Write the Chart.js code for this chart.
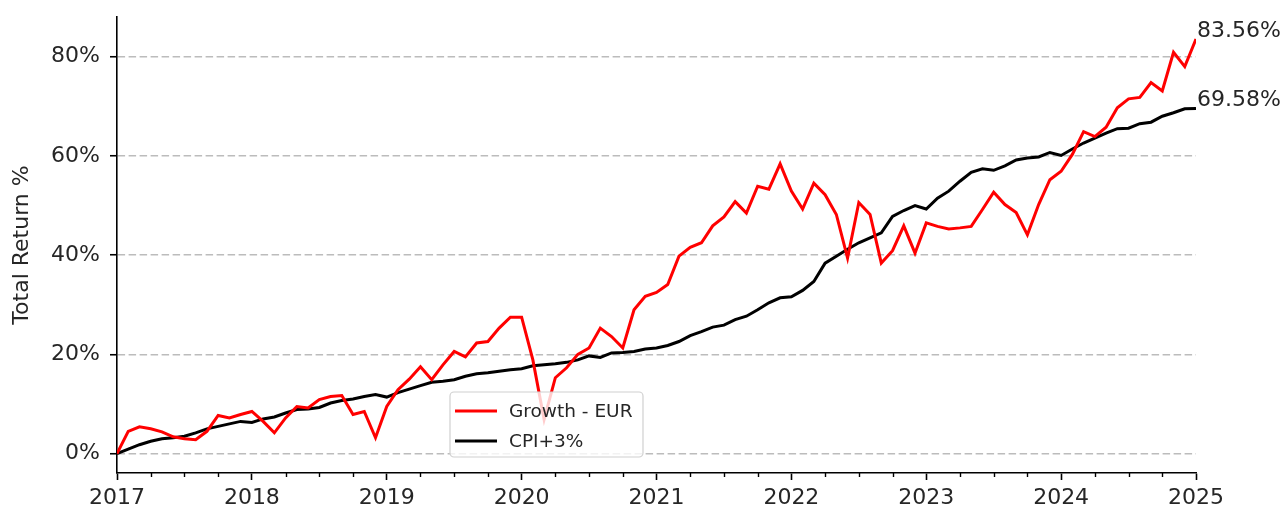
<!DOCTYPE html>
<html>
<head>
<meta charset="utf-8">
<script src="https://cdn.jsdelivr.net/npm/chart.js@4.4.1/dist/chart.umd.min.js"></script>
<style>
  html, body { margin: 0; padding: 0; background: #fff; }
  #wrap { width: 1285px; height: 512px; }
</style>
</head>
<body>
<div id="wrap"><canvas id="returns"></canvas></div>
<script>
// months since Jan 2017 (0 .. 96 = Jan 2025)
const startYear = 2017;
const monthIdx = [
  0, 1, 2, 3, 4, 5, 6, 7, 8, 9, 10, 11,
  12, 13, 14, 15, 16, 17, 18, 19, 20, 21, 22, 23,
  24, 25, 26, 27, 28, 29, 30, 31, 32, 33, 34, 35,
  36, 37, 38, 39, 40, 41, 42, 43, 44, 45, 46, 47,
  48, 49, 50, 51, 52, 53, 54, 55, 56, 57, 58, 59,
  60, 61, 62, 63, 64, 65, 66, 67, 68, 69, 70, 71,
  72, 73, 74, 75, 76, 77, 78, 79, 80, 81, 82, 83,
  84, 85, 86, 87, 88, 89, 90, 91, 92, 93, 94, 95,
  96
];

// total return in %
const growthEur = [
  0.0, 4.5, 5.4, 5.0, 4.4, 3.4, 3.0, 2.8, 4.5, 7.7, 7.2, 7.9,
  8.5, 6.5, 4.2, 7.2, 9.5, 9.2, 10.9, 11.5, 11.7, 7.9, 8.5, 3.2,
  9.5, 12.9, 15.0, 17.5, 14.9, 17.9, 20.6, 19.5, 22.3, 22.6, 25.3, 27.5,
  27.5, 18.9, 6.9, 15.3, 17.3, 20.0, 21.3, 25.3, 23.6, 21.3, 29.0, 31.7,
  32.5, 34.1, 39.8, 41.6, 42.5, 45.9, 47.7, 50.8, 48.5, 53.9, 53.3, 58.4,
  52.9, 49.3, 54.5, 52.2, 48.2, 39.4, 50.6, 48.2, 38.4, 40.9, 45.9, 40.4,
  46.5, 45.8, 45.3, 45.5, 45.8, 49.2, 52.7, 50.2, 48.6, 44.1, 50.2, 55.2,
  56.9, 60.3, 64.9, 63.9, 65.8, 69.7, 71.5, 71.8, 74.8, 73.1, 80.9, 78.0,
  83.56
];

const cpiPlus3 = [
  0.0, 0.9, 1.8, 2.5, 3.0, 3.2, 3.5, 4.2, 5.0, 5.5, 6.0, 6.5,
  6.3, 7.0, 7.4, 8.2, 8.9, 9.0, 9.3, 10.2, 10.7, 11.0, 11.5, 11.9,
  11.4, 12.3, 13.0, 13.7, 14.4, 14.6, 14.9, 15.6, 16.1, 16.3, 16.6, 16.9,
  17.1, 17.7, 17.9, 18.1, 18.4, 18.9, 19.7, 19.4, 20.3, 20.4, 20.6, 21.1,
  21.3, 21.8, 22.6, 23.8, 24.6, 25.5, 25.9, 27.0, 27.7, 29.0, 30.4, 31.4,
  31.6, 32.9, 34.7, 38.4, 39.8, 41.2, 42.5, 43.5, 44.5, 47.8, 49.0, 50.0,
  49.3, 51.5, 52.9, 54.9, 56.7, 57.4, 57.1, 58.0, 59.2, 59.6, 59.8, 60.7,
  60.1, 61.4, 62.6, 63.6, 64.6, 65.5, 65.6, 66.5, 66.8, 68.0, 68.7, 69.5,
  69.58
];

const yTicks = [0, 20, 40, 60, 80];
const seriesNames = ['Growth - EUR', 'CPI+3%'];
const seriesColors = ['#ff0000', '#000000'];

const FONT = "'DejaVu Sans', sans-serif";
const TXT = '#262626';

function toPoints(vals) {
  return monthIdx.map((m, i) => ({ x: m, y: vals[i] }));
}

// quarter minor ticks, end labels and the legend box
const extrasPlugin = {
  id: 'extras',
  afterDatasetsDraw(chart) {
    const ctx = chart.ctx;
    const xs = chart.scales.x;
    const ys = chart.scales.y;
    const area = chart.chartArea;
    ctx.save();

    // minor ticks every quarter
    ctx.strokeStyle = '#000';
    ctx.lineWidth = 1.4;
    for (let m = 3; m < 96; m += 3) {
      if (m % 12 === 0) continue;
      const px = Math.round(xs.getPixelForValue(m)) + 0.5;
      ctx.beginPath();
      ctx.moveTo(px, area.bottom);
      ctx.lineTo(px, area.bottom + 4);
      ctx.stroke();
    }

    // last value labels
    ctx.font = '22px ' + FONT;
    ctx.fillStyle = TXT;
    ctx.textAlign = 'left';
    ctx.textBaseline = 'bottom';
    chart.data.datasets.forEach(ds => {
      const last = ds.data[ds.data.length - 1];
      ctx.fillText(last.y.toFixed(2) + '%', xs.getPixelForValue(last.x) + 1, ys.getPixelForValue(last.y) + 3);
    });

    // legend
    const bx = 450, by = 392, bw = 193, bh = 65;
    ctx.fillStyle = 'rgba(255,255,255,0.8)';
    ctx.strokeStyle = '#d0d0d0';
    ctx.lineWidth = 1.2;
    ctx.beginPath();
    ctx.roundRect(bx, by, bw, bh, 4);
    ctx.fill();
    ctx.stroke();
    ctx.font = '18.5px ' + FONT;
    ctx.textBaseline = 'middle';
    chart.data.datasets.forEach((ds, i) => {
      const ly = by + 19 + i * 30;
      ctx.strokeStyle = ds.borderColor;
      ctx.lineWidth = 3;
      ctx.beginPath();
      ctx.moveTo(bx + 5, ly);
      ctx.lineTo(bx + 47, ly);
      ctx.stroke();
      ctx.fillStyle = TXT;
      ctx.fillText(ds.label, bx + 59, ly + 1);
    });
    ctx.restore();
  }
};

new Chart(document.getElementById('returns'), {
  type: 'line',
  data: {
    datasets: [
      {
        label: seriesNames[0],
        data: toPoints(growthEur),
        borderColor: seriesColors[0],
        borderWidth: 3,
        pointRadius: 0,
        tension: 0
      },
      {
        label: seriesNames[1],
        data: toPoints(cpiPlus3),
        borderColor: seriesColors[1],
        borderWidth: 3,
        pointRadius: 0,
        tension: 0
      }
    ]
  },
  options: {
    responsive: true,
    maintainAspectRatio: false,
    animation: false,
    layout: { padding: { top: 17, right: 89, left: 0, bottom: 0 } },
    plugins: {
      legend: { display: false },
      tooltip: { enabled: false }
    },
    scales: {
      x: {
        type: 'linear',
        min: 0,
        max: 96,
        afterFit: s => { s.height = 39; },
        border: { display: true, color: '#000', width: 1.6 },
        grid: {
          drawOnChartArea: false,
          drawTicks: true,
          tickLength: 7,
          tickWidth: 1.6,
          tickColor: c => (c.tick && c.tick.value % 12 === 0) ? '#000' : 'rgba(0,0,0,0)'
        },
        ticks: {
          stepSize: 3,
          autoSkip: false,
          maxRotation: 0,
          padding: 5,
          color: TXT,
          font: { family: FONT, size: 22 },
          callback: v => (v % 12 === 0) ? String(startYear + v / 12) : ''
        }
      },
      y: {
        min: -3.9,
        max: 88,
        afterFit: s => { s.width = 117; s.paddingTop = 0; s.paddingBottom = 0; },
        afterBuildTicks: s => { s.ticks = yTicks.map(v => ({ value: v })); },
        border: { display: true, color: '#000', width: 1.6, dash: [7.5, 3.5] },
        grid: {
          color: '#bcbcbc',
          lineWidth: 1.5,
          drawTicks: true,
          tickLength: 7,
          tickColor: '#000',
          tickWidth: 1.6,
          tickBorderDash: []
        },
        ticks: {
          padding: 10,
          color: TXT,
          font: { family: FONT, size: 22 },
          callback: v => v + '%'
        },
        title: {
          display: true,
          text: 'Total Return %',
          color: TXT,
          font: { family: FONT, size: 22 },
          padding: { top: 9 }
        }
      }
    }
  },
  plugins: [extrasPlugin]
});
</script>
</body>
</html>
